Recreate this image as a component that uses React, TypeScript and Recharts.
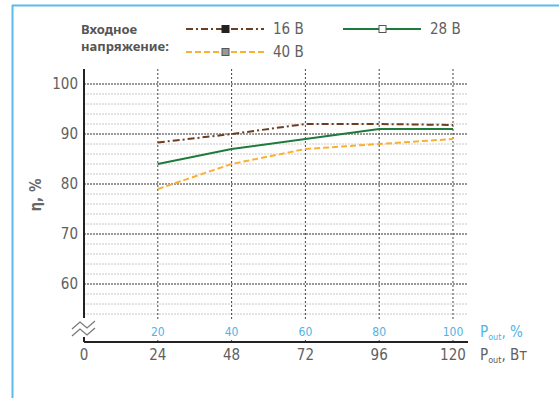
import React from 'react';
import { LineChart, Line, XAxis, YAxis, ReferenceLine, ReferenceDot, Customized } from 'recharts';

const powerTicks = [0, 24, 48, 72, 96, 120];
const pctTicks = ['', '20', '40', '60', '80', '100'];
const xValues = [24, 48, 72, 96, 120];
const v16 = [88.3, 90, 92, 92, 91.8];
const v28 = [84, 87, 89, 91, 91];
const v40 = [79, 84, 87, 88, 89];
const yTicks = [60, 70, 80, 90, 100];
const minorGrid = [54, 56, 58, 62, 64, 66, 68, 72, 74, 76, 78, 82, 84, 86, 88, 92, 94, 96, 98];
const seriesNames = ['16 В', '28 В', '40 В'];
const legendTitle = ['Входное', 'напряжение:'];
const yLabel = 'η, %';
const xLabelPct = ['P', 'out', ', %'];
const xLabelW = ['P', 'out', ', Вт'];

const data = xValues.map((x, i) => ({ x, v16: v16[i], v28: v28[i], v40: v40[i] }));

const NARROW = "'Liberation Sans Narrow', 'DejaVu Sans Condensed', sans-serif";
const SANS = "'Noto Sans', 'Open Sans', sans-serif";
const GRAY = '#606060';
const BLUE = '#4fb3e6';
const C16 = '#6b3f22';
const C28 = '#1e7b3c';
const C40 = '#fbb034';

const XTick = (props: any) => {
  const { x, y, payload } = props;
  const i = powerTicks.indexOf(payload.value);
  return (
    <g>
      <text x={x} y={y + 13} textAnchor="middle" dominantBaseline="central" fill={GRAY} fontSize={15} fontFamily={NARROW}>
        {payload.value}
      </text>
      {pctTicks[i] ? (
        <text x={x} y={y - 10} textAnchor="middle" dominantBaseline="central" fill={BLUE} fontSize={12} fontFamily={NARROW}>
          {pctTicks[i]}
        </text>
      ) : null}
    </g>
  );
};

const ZigZag = (props: any) => {
  const { cx, cy } = props;
  const p1 = [[-12, 0], [-4, -7], [3, -1], [11, -8]];
  const p2 = p1.map(([a, b]) => [a, b + 7]);
  const toPts = (p: number[][]) => p.map(([a, b]) => `${cx + a},${cy + b}`).join(' ');
  return (
    <g>
      <polyline points={toPts(p1)} fill="none" stroke="#777" strokeWidth={1.2} />
      <polyline points={toPts(p2)} fill="none" stroke="#777" strokeWidth={1.2} />
    </g>
  );
};

const Decor = () => {
  const items = [
    { name: seriesNames[0], color: C16, dash: '7 3 2 3', x: 186, y: 29, mFill: '#222', mStroke: '#222' },
    { name: seriesNames[1], color: C28, dash: undefined, x: 343, y: 29, mFill: '#fff', mStroke: '#555' },
    { name: seriesNames[2], color: C40, dash: '6 3', x: 186, y: 52, mFill: '#999', mStroke: '#555' },
  ];
  return (
    <g>
      <line x1={12} y1={5.5} x2={559} y2={5.5} stroke="#5bbbe9" strokeWidth={2} />
      <line x1={12.5} y1={5} x2={12.5} y2={398} stroke="#5bbbe9" strokeWidth={2} />
      <text x={81} y={29} dominantBaseline="central" fill="#555" fontSize={13} fontWeight="bold" fontFamily={SANS}>{legendTitle[0]}</text>
      <text x={81} y={45.5} dominantBaseline="central" fill="#555" fontSize={13} fontWeight="bold" fontFamily={SANS}>{legendTitle[1]}</text>
      {items.map((it) => (
        <g key={it.name}>
          <line x1={it.x} y1={it.y} x2={it.x + 78} y2={it.y} stroke={it.color} strokeWidth={2} strokeDasharray={it.dash} />
          <rect x={it.x + 36} y={it.y - 3.5} width={7} height={7} fill={it.mFill} stroke={it.mStroke} strokeWidth={1} />
          <text x={it.x + 87} y={it.y} dominantBaseline="central" fill={GRAY} fontSize={15} fontFamily={NARROW}>{it.name}</text>
        </g>
      ))}
      <text x={36} y={195} textAnchor="middle" dominantBaseline="central" transform="rotate(-90 36 195)" fill="#666" fontSize={15} fontWeight="bold" fontFamily={NARROW}>{yLabel}</text>
      <text x={480} y={332} dominantBaseline="central" fill={BLUE} fontSize={15} fontFamily={NARROW}>
        {xLabelPct[0]}<tspan fontSize={9} dy={5}>{xLabelPct[1]}</tspan><tspan dy={-5}>{xLabelPct[2]}</tspan>
      </text>
      <text x={480} y={355} dominantBaseline="central" fill={GRAY} fontSize={15} fontFamily={NARROW}>
        {xLabelW[0]}<tspan fontSize={9} dy={5}>{xLabelW[1]}</tspan><tspan dy={-5}>{xLabelW[2]}</tspan>
      </text>
    </g>
  );
};

export default function App() {
  return (
    <div style={{ position: 'absolute', left: 0, top: 0, width: 559, height: 398, background: '#fff' }}>
      <LineChart width={559} height={398} data={data} margin={{ top: 69, right: 91, bottom: 26, left: 24 }}>
        <XAxis
          dataKey="x"
          type="number"
          domain={[0, 124.88]}
          ticks={powerTicks}
          allowDataOverflow
          height={30}
          tickSize={0}
          tickMargin={0}
          tickLine={false}
          axisLine={{ stroke: '#222', strokeWidth: 2 }}
          tick={<XTick />}
          interval={0}
        />
        <YAxis
          type="number"
          domain={[48.4, 103]}
          ticks={yTicks}
          allowDataOverflow
          width={60}
          tickSize={0}
          tickMargin={6}
          tickLine={false}
          axisLine={false}
          tick={{ fill: GRAY, fontSize: 15, fontFamily: NARROW }}
          interval={0}
        />
        {minorGrid.map((v) => (
          <ReferenceLine key={'m' + v} y={v} stroke="#c8c8c8" strokeWidth={1} strokeDasharray="2 1" />
        ))}
        {yTicks.map((v) => (
          <ReferenceLine key={'M' + v} y={v} stroke="#333" strokeWidth={1} strokeDasharray="2 1" />
        ))}
        {powerTicks.slice(1).map((v) => (
          <ReferenceLine key={'v' + v} segment={[{ x: v, y: 53 }, { x: v, y: 103 }]} stroke="#444" strokeWidth={1} strokeDasharray="2 2" />
        ))}
        {powerTicks.slice(1).map((v) => (
          <ReferenceLine key={'vb' + v} segment={[{ x: v, y: 48.4 }, { x: v, y: 49.2 }]} stroke="#444" strokeWidth={1} strokeDasharray="2 2" />
        ))}
        <Line type="linear" dataKey="v40" stroke={C40} strokeWidth={2} strokeDasharray="6 3" dot={false} isAnimationActive={false} />
        <Line type="linear" dataKey="v28" stroke={C28} strokeWidth={2} dot={false} isAnimationActive={false} />
        <Line type="linear" dataKey="v16" stroke={C16} strokeWidth={2} strokeDasharray="7 3 2 3" dot={false} isAnimationActive={false} />
        <ReferenceLine segment={[{ x: 0, y: 53.2 }, { x: 0, y: 103 }]} stroke="#222" strokeWidth={2} />
        <ReferenceLine segment={[{ x: 0, y: 48.4 }, { x: 0, y: 49.4 }]} stroke="#222" strokeWidth={2} />
        <ReferenceDot x={0} y={51} r={0} shape={(p: any) => <ZigZag cx={p.cx} cy={p.cy} />} />
        <Customized component={Decor} />
      </LineChart>
    </div>
  );
}
